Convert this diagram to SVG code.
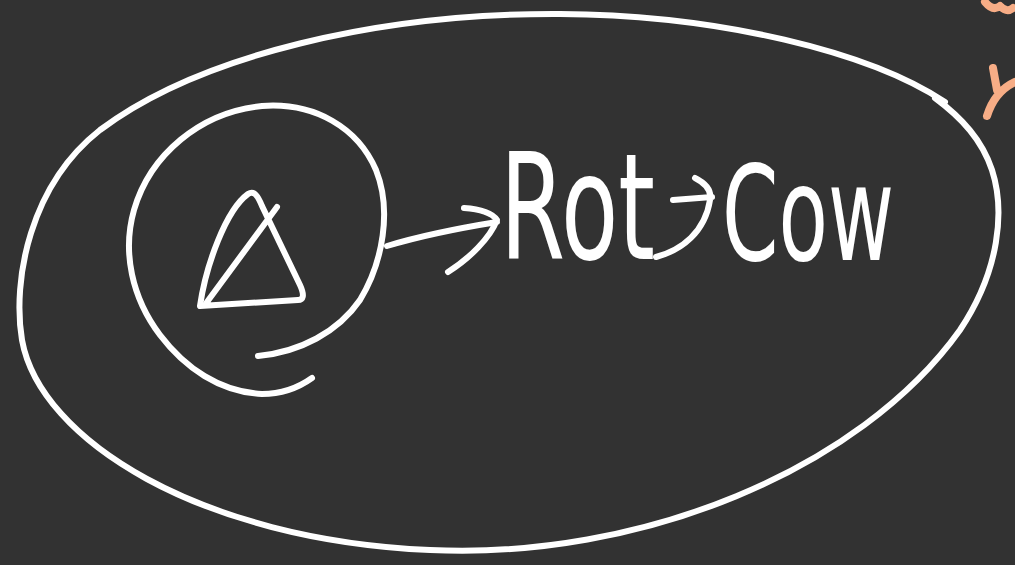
<svg xmlns="http://www.w3.org/2000/svg" width="1015" height="565" viewBox="0 0 1015 565">
<style>
.ink{fill:none;stroke:#ffffff;stroke-width:6;stroke-linecap:round;stroke-linejoin:round}
.org{fill:none;stroke:#f7ad86;stroke-width:8;stroke-linecap:round;stroke-linejoin:round}
.hw{font-family:"DejaVu Sans","Liberation Sans",sans-serif;fill:#ffffff}
</style>
<rect width="1015" height="565" fill="#323232"/>
<g id="outer">
<path class="ink" d="M945,102 C870,52 720,15 560,14 C380,13 200,55 100,130 C30,185 12,280 22,340 C40,440 200,540 430,550 C640,560 860,470 960,330 C1000,270 1005,210 992,170 C982,140 962,118 935,98"/>
</g>
<g id="inner">
<path class="ink" d="M312,378 C298,388 282,394 262,394 C220,392 185,368 160,335 C132,298 122,252 134,210 C150,155 200,112 262,106 C315,102 358,128 376,170 C392,210 383,262 360,300 C338,332 300,352 258,356"/>
<path class="ink" d="M200,306 C206,265 226,210 248,194 C254,190 258,196 262,206 L300,285 C305,296 303,300 298,300 L200,306 M277,207 L207,302"/>
</g>
<g id="connectors">
<path class="ink" d="M387,246 C420,236 460,228 497,222 M464,208 C480,209 492,213 497,220 C490,238 470,258 448,272"/>
<path class="ink" d="M673,200 L712,197 M695,178 C705,183 712,190 710,200 C705,232 682,250 656,257"/>
</g>
<g id="label-rot">
<text class="hw" x="500" y="259" font-size="148" textLength="155" lengthAdjust="spacingAndGlyphs">Rot</text>
</g>
<g id="label-cow">
<text class="hw" x="722" y="260" font-size="132" textLength="172" lengthAdjust="spacingAndGlyphs">Cow</text>
</g>
<g id="orange-marks">
<path class="org" d="M985,2 C990,8 995,10 1000,6 C1004,10 1008,12 1013,8"/>
<path class="org" d="M993,68 L997,90 M987,116 C992,100 1002,88 1015,82"/>
</g>
</svg>
